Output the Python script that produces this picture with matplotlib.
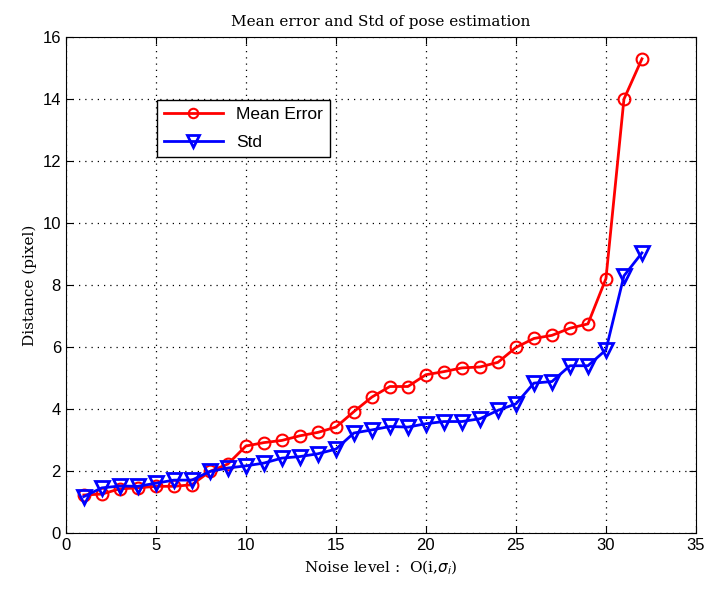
import matplotlib
matplotlib.use("Agg")
import matplotlib.pyplot as plt

noise = list(range(1, 33))
mean_err = [1.22, 1.25, 1.42, 1.45, 1.5, 1.5, 1.55, 1.98, 2.22, 2.8,
            2.91, 2.98, 3.13, 3.24, 3.41, 3.91, 4.38, 4.72, 4.72, 5.1,
            5.2, 5.32, 5.35, 5.5, 5.98, 6.27, 6.37, 6.6, 6.74, 8.2,
            13.99, 15.29]
std = [1.17, 1.45, 1.51, 1.5, 1.6, 1.7, 1.7, 1.98, 2.09, 2.16,
       2.25, 2.41, 2.46, 2.55, 2.7, 3.22, 3.32, 3.43, 3.41, 3.52,
       3.59, 3.59, 3.68, 3.95, 4.16, 4.83, 4.88, 5.39, 5.39, 5.9,
       8.29, 9.03]

fig = plt.figure(figsize=(7.08, 5.94), dpi=100)
ax = fig.add_axes([0.093, 0.103, 0.89, 0.835])

ax.plot(noise, mean_err, color="red", lw=2, marker="o", ms=8.5,
        mfc="none", mew=1.5, label="Mean Error")
ax.plot(noise, std, color="blue", lw=2, marker="v", ms=10,
        mfc="none", mew=2, label="Std")

ax.set_xlim(0, 35)
ax.set_ylim(0, 16)
ax.set_xticks(range(0, 36, 5))
ax.set_yticks(range(0, 17, 2))
ax.grid(True, linestyle=(0, (1, 4)), color="black", lw=0.9)
ax.tick_params(direction="in", top=True, right=True, labelsize=12,
               length=5)
for lab in ax.get_xticklabels() + ax.get_yticklabels():
    lab.set_family("Liberation Sans")

serif = {"family": "DejaVu Serif", "size": 11}
ax.set_title("Mean error and Std of pose estimation", fontdict=serif, pad=8)
ax.set_xlabel(r"Noise level :  O(i,$\sigma_i$)", fontdict=serif)
ax.set_ylabel("Distance (pixel)", fontdict=serif)

leg = ax.legend(loc="upper left", bbox_to_anchor=(0.144, 0.873),
                borderaxespad=0,
                prop={"family": "Liberation Sans", "size": 12.5},
                fancybox=False, edgecolor="black", framealpha=1,
                handlelength=3.4, borderpad=0.4, labelspacing=0.75,
                markerscale=0.8)
leg.get_frame().set_linewidth(1.0)

plt.savefig("out.png", dpi=100)
